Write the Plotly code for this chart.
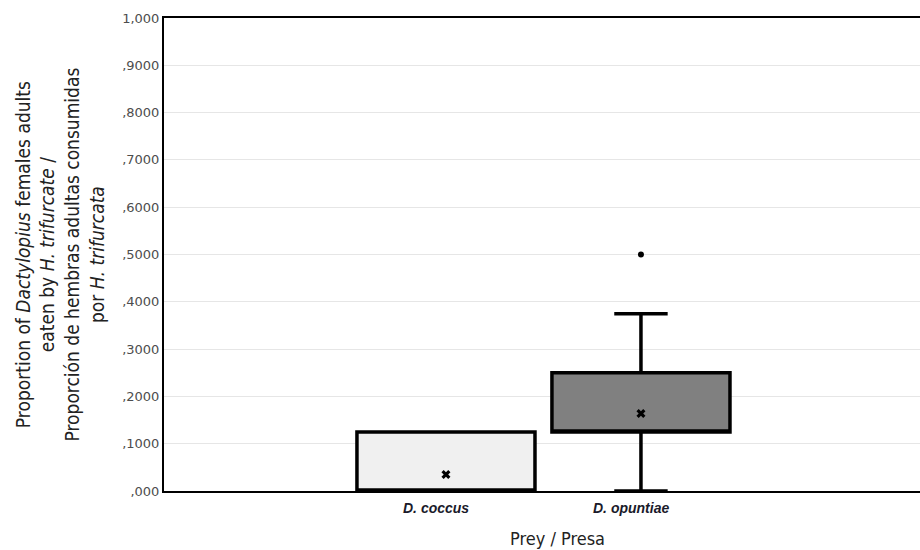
import plotly.graph_objects as go

categories = ["D. coccus", "D. opuntiae"]
q1 = [0.0, 0.125]
median = [0.0, 0.125]
q3 = [0.125, 0.25]
lowerfence = [0.0, 0.0]
upperfence = [0.125, 0.375]
means = [0.035, 0.164]
outlier_cat = ["D. opuntiae"]
outlier_val = [0.5]
fills = ["#f0f0f0", "#808080"]

tickvals = [0, 0.1, 0.2, 0.3, 0.4, 0.5, 0.6, 0.7, 0.8, 0.9, 1.0]
ticktext = [",000", ",1000", ",2000", ",3000", ",4000", ",5000", ",6000",
            ",7000", ",8000", ",9000", "1,000"]

fig = go.Figure()
for i, c in enumerate(categories):
    fig.add_trace(go.Box(
        x=[c], q1=[q1[i]], median=[median[i]], q3=[q3[i]],
        lowerfence=[lowerfence[i]], upperfence=[upperfence[i]],
        fillcolor=fills[i], line=dict(color="black", width=3.5),
        width=0.913, whiskerwidth=0.3, boxpoints=False, showlegend=False,
        hoverinfo="skip",
    ))

fig.add_trace(go.Scatter(
    x=categories, y=means, mode="markers",
    marker=dict(symbol="x", size=8, color="black", line=dict(width=0)),
    showlegend=False, hoverinfo="skip"))
fig.add_trace(go.Scatter(
    x=outlier_cat, y=outlier_val, mode="markers",
    marker=dict(symbol="circle", size=6, color="black"),
    showlegend=False, hoverinfo="skip"))

label_font = dict(family="Liberation Sans, Arial", size=14, color="#1a1a2a")
annotations = [
    dict(text="<b><i>" + c + "</i></b>", x=c, xref="x", y=0, yref="paper",
         xshift=-10, yshift=-17, xanchor="center", yanchor="middle",
         showarrow=False, font=label_font)
    for c in categories
]
annotations += [
    dict(text="Prey / Presa", xref="paper", yref="paper", x=0.521, y=0,
         yshift=-47, xanchor="center", yanchor="middle", showarrow=False,
         font=dict(family="Liberation Sans Narrow, DejaVu Sans Condensed", size=18, color="#222222")),
    dict(text="Proportion of <i>Dactylopius</i> females adults<br>eaten by <i>H. trifurcate</i> /<br>"
              "Proporción de hembras adultas consumidas<br>por <i>H. trifurcata</i>",
         xref="paper", yref="paper", x=0, y=0.5, xshift=-105, textangle=-90,
         xanchor="center", yanchor="middle", showarrow=False, align="center",
         font=dict(family="Liberation Sans Narrow, DejaVu Sans Condensed", size=19, color="#222222")),
]

fig.update_layout(
    width=920, height=550,
    margin=dict(l=164, r=0, t=18, b=59),
    paper_bgcolor="white", plot_bgcolor="white",
    xaxis=dict(
        type="category", categoryorder="array", categoryarray=categories,
        range=[-1.446, 2.431],
        showline=True, linecolor="black", linewidth=2, mirror=True,
        showgrid=False, zeroline=False, ticks="", showticklabels=False,
    ),
    yaxis=dict(
        range=[0, 1.0],
        tickvals=tickvals, ticktext=ticktext,
        tickfont=dict(family="DejaVu Sans", size=13, color="#4d4d4d"),
        showline=True, linecolor="black", linewidth=2,
        showgrid=True, gridcolor="#e6e6e6", gridwidth=1,
        zeroline=False, ticks="",
    ),
    annotations=annotations,
)

fig.write_html("out.html", config={"displayModeBar": False},
               post_script="document.body.style.margin='0';")
